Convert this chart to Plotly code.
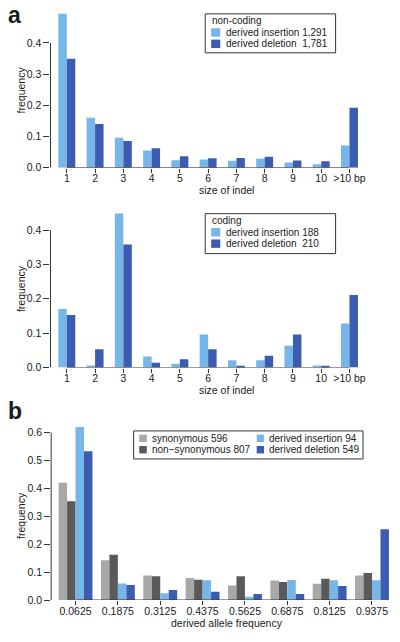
import plotly.graph_objects as go

W, H = 400, 642

# ---------------- data ----------------
size_cats = ["1", "2", "3", "4", "5", "6", "7", "8", "9", "10", ">10 bp"]
noncoding_ins = [0.493, 0.160, 0.096, 0.055, 0.024, 0.026, 0.022, 0.029, 0.017, 0.011, 0.071]
noncoding_del = [0.349, 0.140, 0.086, 0.062, 0.037, 0.030, 0.031, 0.035, 0.023, 0.021, 0.192]
coding_ins = [0.170, 0.006, 0.448, 0.032, 0.011, 0.096, 0.021, 0.021, 0.063, 0.006, 0.128]
coding_del = [0.153, 0.053, 0.358, 0.014, 0.024, 0.053, 0.005, 0.034, 0.096, 0.005, 0.211]

daf_cats = ["0.0625", "0.1875", "0.3125", "0.4375", "0.5625", "0.6875", "0.8125", "0.9375"]
syn_vals = [0.420, 0.143, 0.088, 0.079, 0.052, 0.070, 0.058, 0.088]
nonsyn_vals = [0.354, 0.162, 0.085, 0.073, 0.085, 0.065, 0.076, 0.097]
ins_vals = [0.620, 0.059, 0.024, 0.071, 0.012, 0.072, 0.071, 0.071]
del_vals = [0.533, 0.054, 0.036, 0.030, 0.022, 0.022, 0.050, 0.254]

yticks_a = [0.0, 0.1, 0.2, 0.3, 0.4]
yticks_b = [0.0, 0.1, 0.2, 0.3, 0.4, 0.5, 0.6]

# ---------------- style ----------------
LB = "rgb(118,182,232)"
DB = "rgb(60,92,178)"
GR = "rgb(168,168,168)"
DG = "rgb(90,90,90)"
TXT = "#1a1a1a"
AX = "#333333"
FONT = "Liberation Sans, Arial, Helvetica, sans-serif"
FS = 10.5
LFS = 10


def px(x):
    return x / W


def py(y):
    return 1 - y / H


fig = go.Figure()

# panel a (non-coding)
fig.add_trace(go.Bar(x=size_cats, y=noncoding_ins, xaxis="x", yaxis="y", marker_color=LB,
                     width=0.3, offset=-0.3, marker_line_width=0, name="derived insertion 1,291"))
fig.add_trace(go.Bar(x=size_cats, y=noncoding_del, xaxis="x", yaxis="y", marker_color=DB,
                     width=0.3, offset=0.0, marker_line_width=0, name="derived deletion 1,781"))
# panel a (coding)
fig.add_trace(go.Bar(x=size_cats, y=coding_ins, xaxis="x2", yaxis="y2", marker_color=LB,
                     width=0.3, offset=-0.3, marker_line_width=0, name="derived insertion 188"))
fig.add_trace(go.Bar(x=size_cats, y=coding_del, xaxis="x2", yaxis="y2", marker_color=DB,
                     width=0.3, offset=0.0, marker_line_width=0, name="derived deletion 210"))
# panel b
for vals, col, off, nm in [(syn_vals, GR, -0.4, "synonymous 596"),
                           (nonsyn_vals, DG, -0.2, "non\u2212synonymous 807"),
                           (ins_vals, LB, 0.0, "derived insertion 94"),
                           (del_vals, DB, 0.2, "derived deletion 549")]:
    fig.add_trace(go.Bar(x=daf_cats, y=vals, xaxis="x3", yaxis="y3", marker_color=col,
                         width=0.2, offset=off, marker_line_width=0, name=nm))

xcommon = dict(type="category", showgrid=False, zeroline=False, showline=False,
               ticks="outside", ticklen=4, tickwidth=1, tickcolor=AX, ticklabelstandoff=-3,
               tickfont=dict(family=FONT, size=FS, color=TXT))
ycommon = dict(showgrid=False, zeroline=False, showline=False,
               ticks="outside", ticklen=6, tickwidth=1, tickcolor=AX, tickformat=".1f",
               tickfont=dict(family=FONT, size=FS, color=TXT))

fig.update_layout(
    width=W, height=H, margin=dict(l=0, r=0, t=0, b=0),
    paper_bgcolor="white", plot_bgcolor="white",
    barmode="overlay", showlegend=False,
    xaxis=dict(xcommon, domain=[px(51), px(365)], range=[-0.577, 10.42], anchor="y"),
    yaxis=dict(ycommon, domain=[py(169.3), py(11.8)], range=[0, 0.5], tickvals=yticks_a, anchor="x"),
    xaxis2=dict(xcommon, domain=[px(51), px(365)], range=[-0.577, 10.42], anchor="y2"),
    yaxis2=dict(ycommon, domain=[py(371), py(211.4)], range=[0, 0.46], tickvals=yticks_a, anchor="x2"),
    xaxis3=dict(xcommon, domain=[px(51.7), px(395)], range=[-0.575, 7.45], anchor="y3"),
    yaxis3=dict(ycommon, domain=[py(605.7), py(428.2)], range=[0, 0.63], tickvals=yticks_b, anchor="x3"),
)

shapes = []
annos = []
line = dict(color=AX, width=1)

# axis lines spanning only tick ranges
for xr, yr, cats, yt in [("x", "y", size_cats, yticks_a), ("x2", "y2", size_cats, yticks_a),
                         ("x3", "y3", daf_cats, yticks_b)]:
    shapes.append(dict(type="line", xref=xr, yref=yr, x0=0, x1=len(cats) - 1, y0=0, y1=0, line=line))
    shapes.append(dict(type="line", xref=xr + " domain", yref=yr, x0=0, x1=0, y0=yt[0], y1=yt[-1], line=line))


def text(x, y, s, size=FS, xanchor="left", angle=0, bold=False):
    annos.append(dict(x=px(x), y=py(y), xref="paper", yref="paper", text=("<b>%s</b>" % s) if bold else s,
                      showarrow=False, xanchor=xanchor, yanchor="middle", textangle=angle,
                      font=dict(family=FONT, size=size, color=TXT)))


def box(x0, y0, x1, y1, fill=None, lc=AX):
    d = dict(type="rect", xref="paper", yref="paper", x0=px(x0), x1=px(x1), y0=py(y1), y1=py(y0),
             line=dict(color=lc, width=1 if fill is None else 0))
    if fill:
        d["fillcolor"] = fill
    shapes.append(d)


# panel labels
text(6, 15, "a", size=23, bold=True)
text(6, 415, "b", size=23, bold=True)

# axis titles
for yc in (90.5, 291, 520):
    text(21, yc, "frequency", angle=-90, xanchor="center")
text(229, 191.5, "size of indel", xanchor="center")
text(229, 393.5, "size of indel", xanchor="center")
text(229, 629, "derived allele frequency", xanchor="center")

# legend a (non-coding)
box(207.3, 14, 339, 53.3)
text(212.5, 21, "non-coding", size=LFS)
box(213.3, 28.5, 222.5, 37, fill=LB)
text(226.5, 32.8, "derived insertion 1,291", size=LFS)
box(213.3, 40, 222.5, 48.5, fill=DB)
text(226.5, 44.3, "derived deletion\u00a0\u00a01,781", size=LFS)

# legend coding
box(207.3, 215.7, 339, 256)
text(212.5, 222.7, "coding", size=LFS)
box(213.3, 230.2, 222.5, 238.7, fill=LB)
text(226.5, 234.5, "derived insertion 188", size=LFS)
box(213.3, 241.7, 222.5, 250.2, fill=DB)
text(226.5, 246, "derived deletion\u00a0\u00a0210", size=LFS)

# legend b
box(135, 435, 366.7, 463.3)
box(140.7, 438.7, 148.3, 446.2, fill=GR)
text(151.5, 442.5, "synonymous 596", size=LFS)
box(140.7, 450.2, 148.3, 457.7, fill=DG)
text(151.5, 454, "non\u2212synonymous 807", size=LFS)
box(259.3, 438.7, 266.7, 446.2, fill=LB)
text(269.5, 442.5, "derived insertion 94", size=LFS)
box(259.3, 450.2, 266.7, 457.7, fill=DB)
text(269.5, 454, "derived deletion 549", size=LFS)

fig.update_layout(shapes=shapes, annotations=annos)
fig.write_html("out.html", config={"displayModeBar": False},
               post_script="document.body.style.margin='0';document.body.style.overflow='hidden';")
